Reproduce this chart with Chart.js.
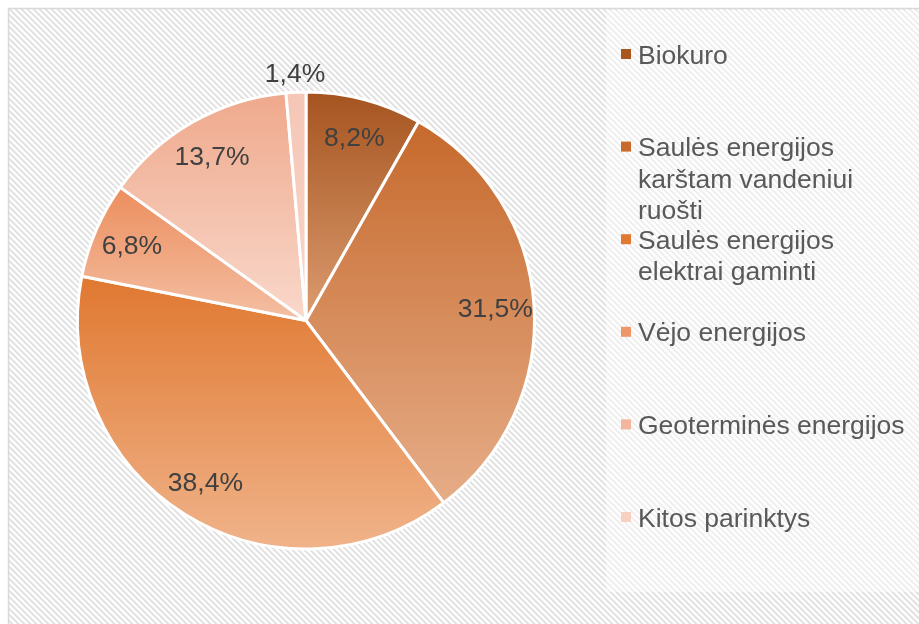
<!DOCTYPE html>
<html>
<head>
<meta charset="utf-8">
<script src="https://cdn.jsdelivr.net/npm/chart.js@4.4.0/dist/chart.umd.min.js"></script>
<style>
  html, body { margin: 0; padding: 0; background: #fff; }
  canvas { display: block; }
</style>
</head>
<body>
<canvas id="pieChart" width="919" height="624"></canvas>
<script>
// chart data
const labels = ['Biokuro', 'Saulės energijos karštam vandeniui ruošti', 'Saulės energijos elektrai gaminti', 'Vėjo energijos', 'Geoterminės energijos', 'Kitos parinktys'];
const values = [8.2, 31.5, 38.4, 6.8, 13.7, 1.4];

// colours: legend swatch, gradient top, gradient bottom
const baseColors = ['#A9561E', '#C96A2C', '#E07A32', '#EE956A', '#F3B59C', '#F7D0C2'];
const topColors = ['#A5541F', '#C6692C', '#E07830', '#EC8E5E', '#EFA98C', '#F5C6B6'];
const bottomColors = ['#DC9C70', '#E6AD88', '#F0B38A', '#F4BFA3', '#F9D8CB', '#F8D6CA'];

const FONT = '26.5px "Liberation Sans", Arial, sans-serif';

function makeHatch() {
  const c = document.createElement('canvas');
  c.width = 6; c.height = 6;
  const g = c.getContext('2d');
  const shades = [221, 229, 243, 255, 255, 243];
  const img = g.createImageData(6, 6);
  for (let y = 0; y < 6; y++) {
    for (let x = 0; x < 6; x++) {
      const d = ((x - y) % 6 + 6) % 6;
      const k = (y * 6 + x) * 4;
      img.data[k] = img.data[k + 1] = img.data[k + 2] = shades[d];
      img.data[k + 3] = 255;
    }
  }
  g.putImageData(img, 0, 0);
  return c;
}

// background, frame and legend box
const backdrop = {
  id: 'backdrop',
  beforeDraw(chart) {
    const ctx = chart.ctx;
    ctx.save();
    ctx.fillStyle = '#fff';
    ctx.fillRect(0, 0, chart.width, chart.height);
    ctx.fillStyle = ctx.createPattern(makeHatch(), 'repeat');
    ctx.fillRect(9, 9, chart.width, chart.height);
    ctx.strokeStyle = '#D9D9D9';
    ctx.lineWidth = 1.5;
    ctx.strokeRect(8.5, 8.5, chart.width + 10, chart.height + 10);
    ctx.fillStyle = 'rgba(255,255,255,0.45)';
    ctx.fillRect(606, 10, chart.width, 582);
    ctx.restore();
  }
};

// vertical gradient per slice, spanning each slice's own height
const sliceGradients = {
  id: 'sliceGradients',
  beforeDatasetsDraw(chart) {
    const ctx = chart.ctx;
    chart.getDatasetMeta(0).data.forEach((arc, i) => {
      const p = arc.getProps(['x', 'y', 'startAngle', 'endAngle', 'outerRadius']);
      const ys = [p.y, p.y + p.outerRadius * Math.sin(p.startAngle), p.y + p.outerRadius * Math.sin(p.endAngle)];
      [-Math.PI / 2, Math.PI / 2, 3 * Math.PI / 2].forEach(a => {
        if (a >= p.startAngle && a <= p.endAngle) ys.push(p.y + p.outerRadius * Math.sin(a));
      });
      const g = ctx.createLinearGradient(0, Math.min(...ys), 0, Math.max(...ys));
      g.addColorStop(0, topColors[i]);
      g.addColorStop(1, bottomColors[i]);
      arc.options = Object.assign({}, arc.options, { backgroundColor: g });
    });
  }
};

// percentage labels
const sliceLabels = {
  id: 'sliceLabels',
  afterDatasetsDraw(chart) {
    const ctx = chart.ctx;
    ctx.save();
    ctx.font = FONT;
    ctx.fillStyle = '#404040';
    ctx.textAlign = 'center';
    ctx.textBaseline = 'alphabetic';
    chart.getDatasetMeta(0).data.forEach((arc, i) => {
      const p = arc.getProps(['x', 'y', 'startAngle', 'endAngle', 'outerRadius']);
      const mid = (p.startAngle + p.endAngle) / 2;
      const r = values[i] < 3 ? p.outerRadius + 20 : p.outerRadius * 0.83;
      const lx = p.x + r * Math.cos(mid);
      const ly = p.y + r * Math.sin(mid);
      ctx.fillText(values[i].toFixed(1).replace('.', ',') + '%', lx, ly + 9.3);
    });
    ctx.restore();
  }
};

function wrapText(ctx, text, maxW) {
  const words = text.split(' ');
  const lines = [];
  let cur = '';
  words.forEach(w => {
    const t = cur ? cur + ' ' + w : w;
    if (cur && ctx.measureText(t).width > maxW) { lines.push(cur); cur = w; }
    else cur = t;
  });
  lines.push(cur);
  return lines;
}

// legend on the right, items evenly spaced like the original
const sideLegend = {
  id: 'sideLegend',
  afterDraw(chart) {
    const ctx = chart.ctx;
    ctx.save();
    ctx.font = FONT;
    ctx.textAlign = 'left';
    ctx.textBaseline = 'alphabetic';
    chart.data.labels.forEach((lab, i) => {
      const cy = 54 + i * 92.6;
      ctx.fillStyle = baseColors[i];
      ctx.fillRect(621, cy - 5, 10, 10);
      ctx.fillStyle = '#595959';
      wrapText(ctx, lab, 275).forEach((ln, j) => {
        ctx.fillText(ln, 638, cy + 9.5 + j * 31.5);
      });
    });
    ctx.restore();
  }
};

new Chart(document.getElementById('pieChart'), {
  type: 'pie',
  data: {
    labels: labels,
    datasets: [{
      data: values,
      backgroundColor: baseColors,
      borderColor: '#ffffff',
      borderWidth: 3
    }]
  },
  options: {
    responsive: false,
    animation: false,
    devicePixelRatio: 1,
    layout: { padding: { top: 90, bottom: 73, left: 76, right: 383 } },
    plugins: { legend: { display: false }, tooltip: { enabled: false } }
  },
  plugins: [backdrop, sliceGradients, sliceLabels, sideLegend]
});
</script>
</body>
</html>
